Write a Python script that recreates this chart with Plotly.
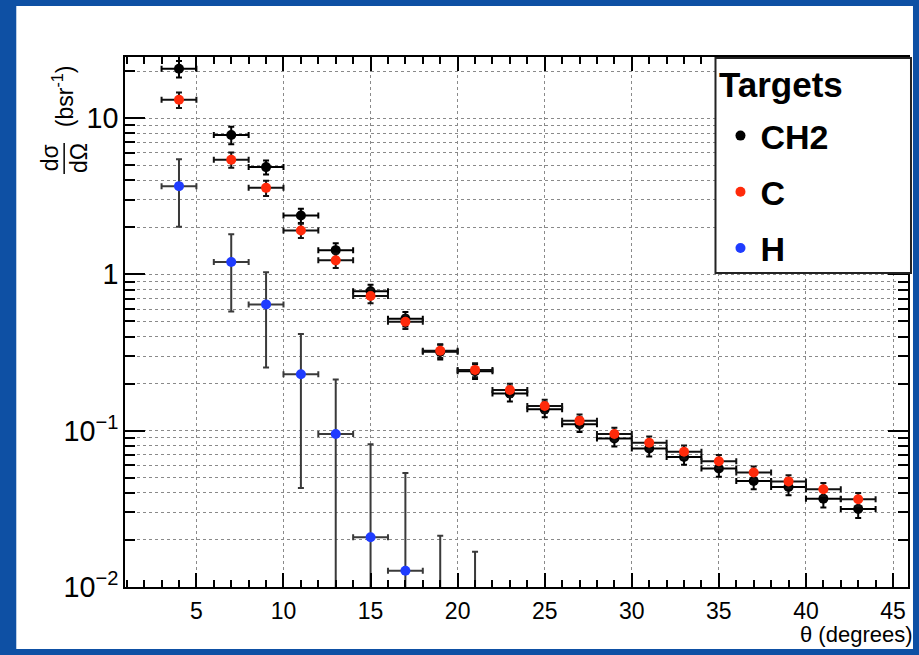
import plotly.graph_objects as go

# ---------------- data ----------------
theta = [4, 7, 9, 11, 13, 15, 17, 19, 21, 23, 25, 27, 29, 31, 33, 35, 37, 39, 41, 43]
theta_halfbin = [1, 1, 1, 1, 1, 1, 1, 1, 1, 1, 1, 1, 1, 1, 1, 1, 1, 1, 1, 1]

ch2 = [20.7, 7.8, 4.86, 2.38, 1.43, 0.78, 0.52, 0.32, 0.24, 0.173,
       0.137, 0.11, 0.0893, 0.0769, 0.068, 0.0573, 0.0477, 0.0436, 0.0367, 0.0316]
ch2_err = [2.5, 1.0, 0.5, 0.25, 0.15, 0.08, 0.055, 0.035, 0.026, 0.019,
           0.015, 0.012, 0.010, 0.0085, 0.0075, 0.0065, 0.0055, 0.005, 0.0045, 0.004]

c = [13.1, 5.42, 3.58, 1.91, 1.23, 0.728, 0.498, 0.325, 0.245, 0.182,
     0.144, 0.116, 0.0953, 0.0838, 0.0733, 0.0638, 0.054, 0.0474, 0.0422, 0.0364]
c_err = [1.5, 0.6, 0.4, 0.2, 0.13, 0.075, 0.05, 0.033, 0.025, 0.018,
         0.014, 0.011, 0.009, 0.008, 0.007, 0.006, 0.005, 0.0045, 0.004, 0.0035]

theta_h = [4, 7, 9, 11, 13, 15, 17, 19, 21]
theta_h_halfbin = [1, 1, 1, 1, 1, 1, 1, 1, 1]
h = [3.67, 1.20, 0.643, 0.230, 0.0953, 0.0208, 0.0127, 0.002, 0.002]
h_err_plus = [1.78, 0.61, 0.39, 0.186, 0.117, 0.061, 0.041, 0.0193, 0.0148]
h_err_minus = [1.65, 0.62, 0.389, 0.187, 0.117, 0.061, 0.041, 0.002, 0.002]

series_names = ["CH2", "C", "H"]
series_colors = ["#000000", "#ff2a0a", "#1f3cff"]
legend_title = "Targets"

# ---------------- layout helpers ----------------
W, H = 919, 655
L, R, T, B = 125, 9, 57, 68
PW, PH = W - L - R, H - T - B


def px2x(px):
    return (px - L) / PW


def py2y(py):
    return (H - B - py) / PH


FONT = "Liberation Sans"

fig = go.Figure()

fig.add_trace(go.Scatter(
    x=theta, y=ch2, mode="markers", name=series_names[0], legendgroup="a",
    marker=dict(color=series_colors[0], size=10),
    error_x=dict(type="data", array=theta_halfbin, color="black", thickness=2, width=3),
    error_y=dict(type="data", array=ch2_err, color="black", thickness=2, width=3),
))
fig.add_trace(go.Scatter(
    x=theta, y=c, mode="markers", name=series_names[1], legendgroup="b",
    marker=dict(color=series_colors[1], size=10),
    error_x=dict(type="data", array=theta_halfbin, color="#111111", thickness=2, width=3),
    error_y=dict(type="data", array=c_err, color="#111111", thickness=2, width=3),
))
fig.add_trace(go.Scatter(
    x=theta_h, y=h, mode="markers", name=series_names[2], legendgroup="c",
    marker=dict(color=series_colors[2], size=10),
    error_x=dict(type="data", array=theta_h_halfbin, color="#3a3a3a", thickness=2, width=3),
    error_y=dict(type="data", symmetric=False, array=h_err_plus, arrayminus=h_err_minus,
                 color="#3a3a3a", thickness=2, width=3),
))

grid_col = "#8a8a8a"

fig.update_xaxes(
    range=[0.9, 45.86], dtick=5, tick0=0,
    ticks="inside", ticklen=14, tickwidth=1.5, tickcolor="black",
    showline=True, linecolor="black", linewidth=2, mirror="ticks",
    showgrid=True, gridcolor=grid_col, griddash="dot", gridwidth=1,
    zeroline=False,
    minor=dict(dtick=1, ticks="inside", ticklen=7, tickcolor="black", showgrid=False),
    tickfont=dict(family=FONT, size=23, color="black"),
    ticklabelstandoff=2,
)
fig.update_yaxes(
    type="log", range=[-2, 1.391], dtick=1, exponentformat="power",
    ticks="inside", ticklen=20, tickwidth=1.5, tickcolor="black",
    showline=True, linecolor="black", linewidth=2, mirror="ticks",
    showgrid=True, gridcolor=grid_col, griddash="dot", gridwidth=1,
    zeroline=False,
    minor=dict(dtick="D1", ticks="inside", ticklen=10, tickcolor="black",
               showgrid=True, gridcolor=grid_col, griddash="dot", gridwidth=1),
    tickfont=dict(family=FONT, size=23, color="black"),
)

annotations = [
    dict(text="dσ", x=px2x(50), y=py2y(158), textangle=-90),
    dict(text="dΩ", x=px2x(79), y=py2y(158), textangle=-90),
    dict(text="(bsr<sup>-1</sup>)", x=px2x(63), y=py2y(96), textangle=-90),
]
anns = []
for a in annotations:
    a.update(xref="paper", yref="paper", showarrow=False, xanchor="center", yanchor="middle",
             font=dict(family=FONT, size=23, color="black"))
    anns.append(a)
anns.append(dict(text="θ (degrees)", x=px2x(917), y=py2y(634), xref="paper", yref="paper",
                 showarrow=False, xanchor="right", yanchor="middle",
                 font=dict(family=FONT, size=22, color="black")))
anns.append(dict(text=legend_title, x=px2x(719), y=py2y(84), xref="paper", yref="paper",
                 showarrow=False, xanchor="left", yanchor="middle",
                 font=dict(family=FONT, size=35, color="black", weight="bold")))

shapes = [
    dict(type="rect", xref="paper", yref="paper", layer="below",
         x0=px2x(16), x1=px2x(915), y0=py2y(649), y1=py2y(6),
         fillcolor="white", line=dict(width=0)),
    dict(type="line", xref="paper", yref="paper",
         x0=px2x(64), x1=px2x(64), y0=py2y(143), y1=py2y(174),
         line=dict(color="black", width=1.5)),
    # legend frame
    dict(type="rect", xref="paper", yref="paper", layer="above",
         x0=px2x(717), x1=px2x(913), y0=py2y(273), y1=py2y(58),
         fillcolor="white", line=dict(color="#222222", width=2)),
]

fig.update_layout(
    width=W, height=H,
    margin=dict(l=L, r=R, t=T, b=B, pad=0),
    paper_bgcolor="#0e50a4", plot_bgcolor="white",
    showlegend=True,
    legend=dict(
        x=px2x(722), xanchor="left", y=py2y(107), yanchor="top",
        bgcolor="rgba(0,0,0,0)", borderwidth=0,
        font=dict(family=FONT, size=34, color="black", weight="bold"),
        tracegroupgap=9, itemsizing="trace", traceorder="grouped",
    ),
    annotations=anns, shapes=shapes,
)

fig.write_html("out.html")
